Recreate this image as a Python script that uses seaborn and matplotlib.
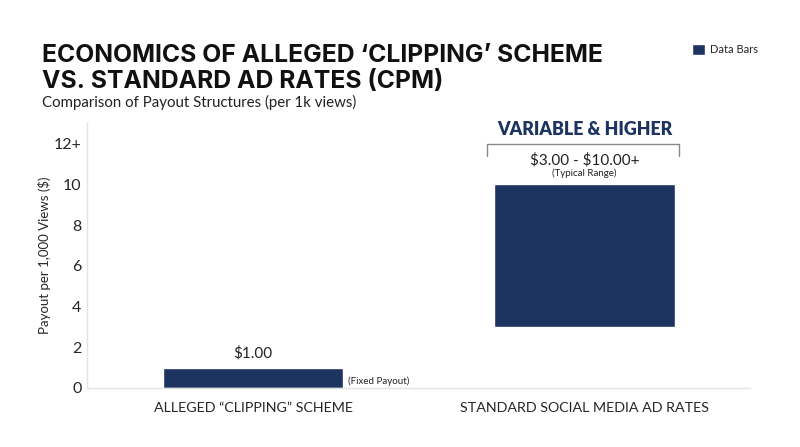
import matplotlib
matplotlib.use("Agg")
import matplotlib.pyplot as plt
import seaborn as sns
import pandas as pd
from matplotlib.patches import Patch

categories = ["ALLEGED \u201cCLIPPING\u201d SCHEME", "STANDARD SOCIAL MEDIA AD RATES"]
bar_low = [0, 3]
bar_high = [1, 10]
value_labels = ["$1.00", "$3.00 - $10.00+"]
sub_labels = ["(Fixed Payout)", "(Typical Range)"]
ytick_vals = [0, 2, 4, 6, 8, 10, 12]
ytick_labels = ["0", "2", "4", "6", "8", "10", "12+"]
title_lines = ["ECONOMICS OF ALLEGED \u2018CLIPPING\u2019 SCHEME", "VS. STANDARD AD RATES (CPM)"]
subtitle = "Comparison of Payout Structures (per 1k views)"
callout = "VARIABLE & HIGHER"

sns.set_theme(style="white")
plt.rcParams['font.family'] = ['Lato', 'DejaVu Sans']


def esc(s):
    return s.replace("$", r"\$")


BAR = "#1d3360"
df = pd.DataFrame({"cat": categories, "high": bar_high, "low": bar_low})
df["height"] = df["high"] - df["low"]

fig = plt.figure(figsize=(8, 4.47), dpi=100)
ax = fig.add_axes([0.109, 0.132, 0.829, 0.592])

sns.barplot(data=df, x="cat", y="height", bottom=df["low"], color=BAR,
            width=0.545, saturation=1, ax=ax, order=categories)

ax.set_xlim(-0.5, 1.5)
ax.set_ylim(0, 13)
ax.set_yticks(ytick_vals)
ax.set_yticklabels(ytick_labels, fontsize=11.5)
ax.set_xlabel("")
ax.set_ylabel("Payout per 1,000 Views ($)", fontsize=9.5, labelpad=2)
ax.tick_params(axis="x", labelsize=10.3, length=0, pad=10)
ax.tick_params(axis="y", length=0, pad=4)
for s in ["top", "right"]:
    ax.spines[s].set_visible(False)
for s in ["left", "bottom"]:
    ax.spines[s].set_color("#e3e3e3")
    ax.spines[s].set_linewidth(1)

# annotations
ax.text(0, bar_high[0] + 0.35, esc(value_labels[0]), ha="center", va="bottom", fontsize=11, color="#222")
ax.text(0.285, bar_high[0] * 0.1, sub_labels[0], ha="left", va="bottom", fontsize=7, color="#222")
ax.text(1, 11.2, esc(value_labels[1]), ha="center", va="center", fontsize=11, color="#222")
ax.text(1, 10.55, sub_labels[1], ha="center", va="center", fontsize=7, color="#222")
ax.plot([0.705, 0.705, 1.285, 1.285], [11.4, 12, 12, 11.4], color="#888", lw=1, clip_on=False)
ax.text(1, 12.3, callout, ha="center", va="bottom", fontsize=12.8,
        fontweight="heavy", color=BAR, clip_on=False)

title_font = ["Inter", "DejaVu Sans"]
fig.text(0.052, 1 - 62 / 447, title_lines[0], fontsize=17.8, fontweight="bold",
         family=title_font, color="#111", ha="left", va="baseline")
fig.text(0.052, 1 - 88 / 447, title_lines[1], fontsize=17.8, fontweight="bold",
         family=title_font, color="#111", ha="left", va="baseline")
fig.text(0.052, 1 - 107 / 447, subtitle, fontsize=10.8, color="#222", va="baseline")

leg = fig.legend(handles=[Patch(facecolor=BAR, label="Data Bars")], loc="upper left",
                 bbox_to_anchor=(0.852, 0.925), frameon=False, fontsize=8,
                 handlelength=1.2, handleheight=1.2, handletextpad=0.5)

fig.savefig("out.png", dpi=100)
